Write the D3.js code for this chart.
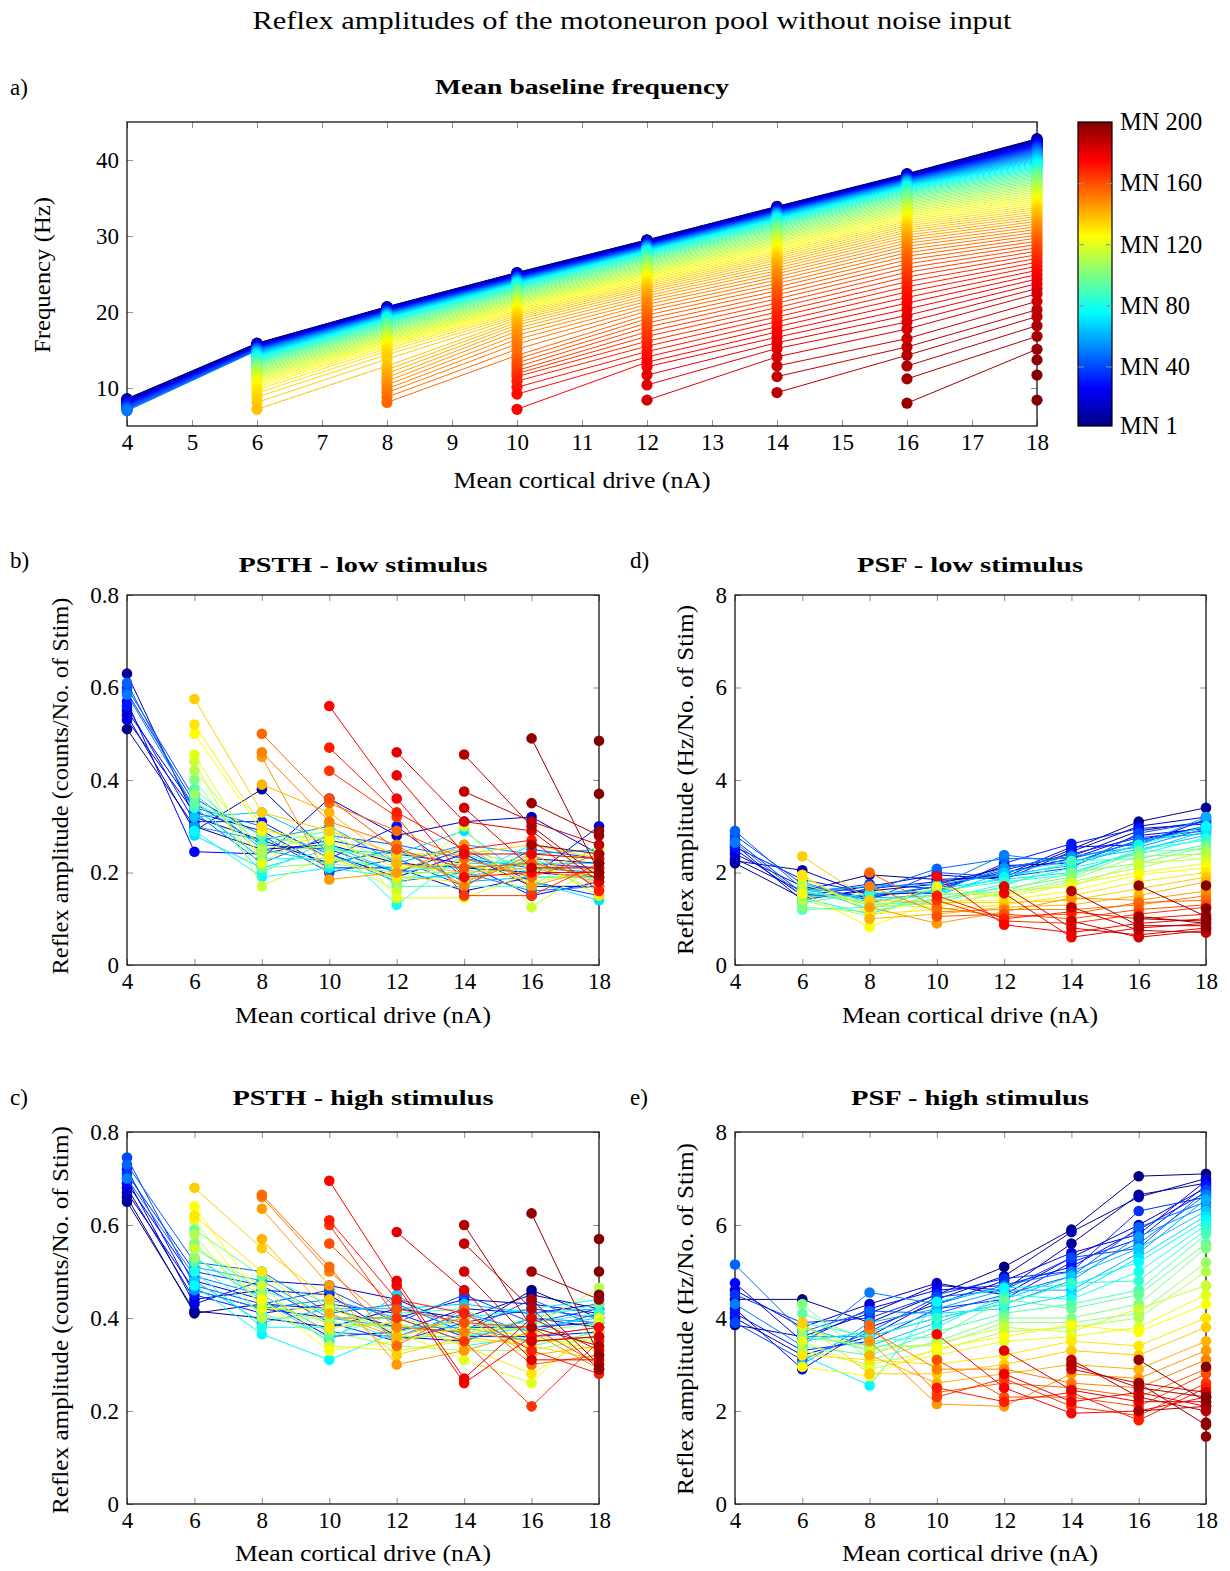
<!DOCTYPE html>
<html><head><meta charset="utf-8">
<script src="https://cdn.jsdelivr.net/npm/d3@7"></script>
<style>body{margin:0;background:#fff}</style>
</head><body><svg id="c" width="1230" height="1571"></svg>
<script>
// ---------------- data ----------------
const drives = [4, 6, 8, 10, 12, 14, 16, 18];

// motoneurons shown in panel a (ordered by recruitment)
const mnIdsA = [1,3,5,7,9,11,13,15,17,19,21,23,25,27,29,31,33,35,37,39,41,43,45,47,49,51,53,55,57,59,61,63,65,67,69,71,73,75,77,79,81,83,85,87,89,91,93,95,97,99,101,103,105,107,109,111,113,115,117,119,121,123,125,127,129,131,133,135,137,139,141,143,145,147,149,151,153,155,157,159,161,163,165,167,169,171,173,175,177,179,181,183,185,187,189,191,193,195,197,199,200];
// each inner array = one drive level, frequencies (Hz) of the recruited MNs in mnIdsA order
const baselineFreq = [
  [8.6,8.55,8.5,8.45,8.4,8.35,8.3,8.25,8.2,8.15,8.1,8.0,7.95,7.9,7.8,7.75,7.65,7.6,7.5,7.4,7.35,7.25,7.2,7.1,7.0],
  [15.9,15.86,15.82,15.78,15.74,15.7,15.66,15.62,15.58,15.54,15.5,15.46,15.42,15.38,15.34,15.3,15.26,15.22,15.18,15.14,15.1,15.06,15.02,14.98,14.94,
   14.9,14.85,14.8,14.74,14.68,14.62,14.56,14.5,14.43,14.36,14.29,14.22,14.15,
   14.05,13.95,13.85,13.75,13.64,13.53,13.42,13.3,13.18,13.06,12.93,12.8,
   12.65,12.5,12.35,12.2,12.04,11.88,11.7,11.52,11.33,11.13,10.92,10.7,10.45,
   10.15,9.8,9.35,8.8,8.1,7.2],
  [20.7,20.67,20.64,20.6,20.57,20.53,20.5,20.46,20.42,20.38,20.35,20.31,20.27,20.23,20.19,20.15,20.11,20.07,20.03,19.99,19.95,19.91,19.87,19.83,19.79,
   19.75,19.71,19.67,19.63,19.59,19.55,19.5,19.45,19.4,19.35,19.3,19.25,19.2,
   19.1,19.0,18.9,18.8,18.7,18.58,18.46,18.34,18.22,18.1,17.97,17.84,
   17.7,17.55,17.4,17.25,17.1,16.94,16.78,16.62,16.45,16.28,16.1,15.92,15.73,
   15.5,15.2,14.85,14.4,13.8,12.9,
   12.4,11.9,11.4,10.9,10.4,9.9,9.4,8.8,8.1],
  [25.2,25.16,25.12,25.08,25.04,25.0,24.96,24.92,24.88,24.84,24.8,24.76,24.72,24.68,24.64,24.6,24.56,24.52,24.48,24.44,24.4,24.36,24.32,24.28,24.24,
   24.2,24.16,24.12,24.08,24.04,24.0,23.96,23.92,23.88,23.84,23.8,23.75,23.7,
   23.6,23.5,23.4,23.3,23.2,23.1,22.98,22.86,22.74,22.62,22.5,22.37,
   22.24,22.1,21.96,21.82,21.67,21.52,21.37,21.21,21.05,20.88,20.71,20.53,20.35,
   20.15,19.95,19.73,19.5,19.25,18.98,
   18.65,18.3,17.9,17.45,16.95,16.4,15.8,15.1,14.3,
   13.8,13.3,12.8,12.3,11.9,11.5,10.9,10.1,9.2,7.2],
  [29.5,29.46,29.42,29.38,29.34,29.3,29.26,29.22,29.18,29.14,29.1,29.06,29.02,28.98,28.94,28.9,28.86,28.82,28.78,28.74,28.7,28.66,28.62,28.58,28.54,
   28.5,28.46,28.42,28.38,28.34,28.3,28.26,28.22,28.18,28.14,28.1,28.05,28.0,
   27.9,27.8,27.7,27.6,27.48,27.36,27.24,27.12,27.0,26.87,26.74,26.6,
   26.45,26.3,26.15,26.0,25.84,25.68,25.52,25.35,25.18,25.0,24.82,24.63,24.44,
   24.24,24.03,23.81,23.58,23.34,23.08,
   22.8,22.5,22.15,21.8,21.4,21.0,20.55,20.1,19.6,
   19.1,18.55,18.0,17.4,16.8,16.15,15.5,14.8,14.1,13.4,
   12.8,11.7,10.4,8.4],
  [33.9,33.86,33.82,33.78,33.74,33.7,33.66,33.62,33.58,33.54,33.5,33.46,33.42,33.38,33.34,33.3,33.26,33.22,33.18,33.14,33.1,33.06,33.02,32.98,32.94,
   32.9,32.86,32.82,32.78,32.73,32.68,32.63,32.58,32.52,32.46,32.4,32.33,32.26,
   32.16,32.06,31.95,31.84,31.72,31.6,31.47,31.34,31.2,31.06,30.91,30.76,
   30.6,30.44,30.27,30.1,29.92,29.74,29.55,29.36,29.16,28.96,28.75,28.54,28.32,
   28.09,27.85,27.6,27.34,27.07,26.79,
   26.48,26.15,25.8,25.43,25.04,24.63,24.2,23.75,23.28,
   22.78,22.26,21.72,21.16,20.58,19.98,19.36,18.72,18.06,17.38,
   16.68,15.96,15.2,14.1,
   12.9,11.5,9.4],
  [38.2,38.16,38.12,38.08,38.04,38.0,37.96,37.92,37.88,37.84,37.8,37.76,37.72,37.68,37.64,37.6,37.56,37.52,37.48,37.44,37.4,37.36,37.32,37.28,37.24,
   37.2,37.15,37.1,37.05,37.0,36.95,36.89,36.83,36.77,36.71,36.64,36.57,36.5,
   36.4,36.29,36.18,36.06,35.94,35.81,35.68,35.54,35.4,35.25,35.1,34.94,
   34.77,34.6,34.42,34.24,34.05,33.86,33.66,33.46,33.25,33.04,32.82,32.6,32.37,
   32.13,31.88,31.62,31.35,31.07,30.78,
   30.47,30.14,29.8,29.44,29.06,28.66,28.24,27.8,27.34,
   26.85,26.33,25.79,25.22,24.62,23.99,23.33,22.64,21.92,21.17,
   20.38,19.55,18.68,17.76,
   16.5,15.4,14.3,
   12.9,11.2,8.0],
  [42.8,42.74,42.68,42.62,42.56,42.5,42.43,42.36,42.29,42.22,42.15,42.08,42.0,41.92,41.84,41.76,41.68,41.6,41.51,41.42,41.33,41.24,41.15,41.05,40.95,
   40.85,40.75,40.64,40.53,40.42,40.31,40.19,40.07,39.95,39.82,39.69,39.56,39.42,
   39.28,39.13,38.98,38.83,38.67,38.51,38.34,38.17,38.0,37.82,37.64,37.45,
   37.26,37.06,36.86,36.65,36.44,36.22,36.0,35.77,35.54,35.3,35.06,34.81,34.55,
   34.29,34.02,33.74,33.46,33.17,32.87,
   32.56,32.24,31.91,31.57,31.22,30.86,30.49,30.11,29.72,
   29.31,28.89,28.45,28.0,27.53,27.04,26.54,26.02,25.48,24.92,
   24.33,23.72,23.08,22.4,
   21.4,20.3,19.4,
   18.2,16.8,15.1,
   13.7,11.7,8.4]
];

// motoneurons shown in panels b-e
const mnIds = [1,5,10,15,20,25,30,35,40,45,50,55,60,65,70,75,80,85,90,95,100,105,110,115,120,125,130,135,140,145,150,155,160,165,170,175,178,181,184,187,190,192,194,196,197,198,199,200];

const psthLow = [
  [0.51,0.63,0.54,0.55,0.53,0.57,0.56,0.59,0.60,0.61,0.585],
  [0.30,0.32,0.29,0.34,0.33,0.245,0.31,0.35,0.36,0.33,0.34,0.30,0.37,0.32,0.28,0.29,0.36,0.34,0.38,0.35,0.40,0.37,0.42,0.44,0.455,0.50,0.52,0.575],
  [0.25,0.27,0.38,0.23,0.29,0.24,0.31,0.26,0.28,0.22,0.30,0.27,0.25,0.33,0.21,0.19,0.20,0.23,0.26,0.28,0.21,0.24,0.25,0.17,0.22,0.29,0.30,0.33,0.39,0.45,0.46,0.50],
  [0.26,0.22,0.24,0.36,0.21,0.27,0.23,0.25,0.20,0.28,0.24,0.30,0.22,0.26,0.25,0.21,0.27,0.23,0.29,0.25,0.22,0.26,0.28,0.24,0.31,0.27,0.23,0.29,0.33,0.185,0.31,0.35,0.36,0.42,0.47,0.56],
  [0.22,0.25,0.19,0.28,0.21,0.24,0.30,0.20,0.23,0.26,0.18,0.22,0.25,0.20,0.24,0.19,0.13,0.21,0.17,0.23,0.20,0.18,0.22,0.16,0.145,0.21,0.19,0.24,0.22,0.20,0.26,0.29,0.25,0.32,0.33,0.36,0.41,0.46],
  [0.21,0.18,0.24,0.31,0.16,0.22,0.19,0.25,0.17,0.23,0.20,0.26,0.18,0.22,0.29,0.19,0.24,0.21,0.17,0.25,0.20,0.23,0.19,0.30,0.145,0.22,0.18,0.24,0.20,0.26,0.17,0.23,0.21,0.15,0.25,0.19,0.24,0.31,0.34,0.375,0.455],
  [0.20,0.23,0.17,0.32,0.19,0.15,0.22,0.18,0.25,0.21,0.16,0.24,0.19,0.22,0.18,0.26,0.20,0.23,0.17,0.21,0.24,0.19,0.22,0.125,0.20,0.18,0.23,0.26,0.21,0.17,0.24,0.19,0.22,0.15,0.27,0.20,0.24,0.29,0.21,0.31,0.30,0.26,0.35,0.49],
  [0.19,0.22,0.17,0.24,0.30,0.18,0.21,0.15,0.23,0.20,0.17,0.25,0.19,0.22,0.14,0.24,0.20,0.18,0.26,0.21,0.23,0.19,0.16,0.22,0.25,0.20,0.15,0.23,0.18,0.21,0.17,0.24,0.19,0.22,0.16,0.20,0.23,0.18,0.21,0.26,0.19,0.24,0.28,0.20,0.29,0.22,0.37,0.485]
];
const psthHigh = [
  [0.66,0.65,0.68,0.67,0.70,0.69,0.72,0.71,0.745,0.73,0.70],
  [0.41,0.415,0.44,0.46,0.43,0.48,0.45,0.50,0.47,0.52,0.49,0.46,0.51,0.48,0.53,0.47,0.50,0.55,0.52,0.59,0.56,0.53,0.58,0.55,0.61,0.64,0.62,0.68],
  [0.43,0.40,0.46,0.42,0.48,0.44,0.41,0.47,0.43,0.50,0.45,0.42,0.48,0.39,0.44,0.365,0.38,0.46,0.41,0.49,0.43,0.45,0.40,0.47,0.42,0.44,0.50,0.55,0.57,0.635,0.66,0.665],
  [0.42,0.38,0.45,0.40,0.47,0.36,0.43,0.39,0.46,0.41,0.37,0.44,0.40,0.42,0.35,0.31,0.38,0.41,0.36,0.43,0.39,0.37,0.40,0.34,0.42,0.33,0.38,0.44,0.41,0.47,0.50,0.51,0.56,0.60,0.61,0.695],
  [0.38,0.42,0.36,0.40,0.44,0.37,0.41,0.35,0.39,0.43,0.36,0.40,0.38,0.42,0.45,0.37,0.39,0.35,0.41,0.36,0.38,0.34,0.40,0.33,0.37,0.35,0.39,0.32,0.36,0.30,0.38,0.34,0.42,0.40,0.44,0.47,0.48,0.585],
  [0.37,0.40,0.35,0.44,0.38,0.42,0.36,0.39,0.45,0.37,0.41,0.35,0.38,0.43,0.36,0.40,0.34,0.38,0.42,0.36,0.39,0.33,0.37,0.35,0.31,0.38,0.34,0.36,0.40,0.33,0.37,0.42,0.39,0.35,0.41,0.26,0.27,0.46,0.50,0.56,0.60],
  [0.46,0.45,0.40,0.43,0.38,0.41,0.36,0.42,0.39,0.44,0.37,0.40,0.35,0.41,0.38,0.42,0.36,0.39,0.34,0.40,0.37,0.33,0.38,0.35,0.26,0.36,0.28,0.34,0.32,0.37,0.35,0.30,0.38,0.21,0.33,0.36,0.40,0.31,0.35,0.42,0.38,0.44,0.50,0.625],
  [0.40,0.42,0.38,0.41,0.39,0.43,0.37,0.40,0.42,0.38,0.41,0.39,0.36,0.42,0.40,0.44,0.38,0.41,0.37,0.43,0.39,0.36,0.465,0.35,0.40,0.33,0.37,0.31,0.34,0.29,0.36,0.32,0.30,0.35,0.28,0.38,0.33,0.31,0.36,0.29,0.34,0.30,0.44,0.32,0.29,0.45,0.50,0.57]
];
const psfLow = [
  [2.2,2.3,2.25,2.5,2.4,2.6,2.55,2.7,2.8,2.9,2.65],
  [1.45,1.6,2.05,1.5,1.7,1.4,1.85,1.55,1.75,1.65,1.5,1.8,1.6,1.55,1.7,1.45,1.65,1.35,1.2,1.5,1.25,1.6,1.4,1.75,1.9,1.55,1.95,2.35],
  [1.6,1.95,1.5,1.7,1.45,1.65,1.55,1.75,1.4,1.6,1.5,1.35,1.7,1.45,1.2,1.1,1.3,1.55,1.25,1.4,1.15,1.35,1.05,1.3,1.2,0.82,1.1,1.4,1.0,1.25,1.7,2.0],
  [1.75,1.85,1.6,1.95,1.7,1.8,1.55,1.65,2.0,2.08,1.7,1.6,1.75,1.5,1.65,1.55,1.4,1.6,1.35,1.5,1.45,1.3,1.55,1.25,1.7,1.4,1.2,1.35,1.1,0.9,1.15,1.25,1.05,1.4,1.5,1.92],
  [2.1,1.9,2.15,1.85,2.0,1.95,2.2,2.05,1.9,2.3,2.38,2.1,1.95,2.0,1.85,1.9,1.75,1.8,1.7,1.65,1.6,1.55,1.5,1.6,1.45,1.4,1.3,1.35,1.25,1.15,1.2,1.05,1.1,0.95,1.0,0.87,1.55,1.7],
  [2.35,2.5,2.2,2.45,2.3,2.55,2.62,2.4,2.1,2.3,2.2,2.35,2.15,2.25,2.0,2.2,2.1,1.95,2.25,1.9,2.0,1.85,1.8,1.7,1.75,1.6,1.5,1.4,1.3,1.45,1.2,1.1,1.0,0.9,1.15,0.7,0.6,0.8,0.95,1.25,1.6],
  [2.9,3.1,2.7,3.0,2.8,2.6,2.95,2.75,2.85,2.65,2.7,2.55,2.6,2.5,2.45,2.6,2.4,2.5,2.3,2.45,2.2,2.35,2.1,2.2,2.0,1.95,1.8,1.65,1.5,1.4,1.3,1.35,1.2,1.1,1.0,0.9,0.8,0.65,0.6,0.75,0.85,1.0,1.05,1.72],
  [3.1,3.4,3.0,3.2,2.95,3.15,3.05,2.9,3.1,3.0,2.85,2.95,3.2,2.8,2.9,3.0,2.75,2.7,2.6,2.5,2.55,2.4,2.45,2.3,2.2,2.1,2.0,1.9,1.8,1.6,1.5,1.4,1.3,1.25,1.1,1.0,0.9,0.8,0.75,0.7,0.85,0.95,0.9,1.05,0.8,1.0,1.22,1.72]
];
const psfHigh = [
  [4.4,3.85,4.0,4.6,4.2,4.75,4.1,4.5,3.9,5.15,4.3],
  [4.4,3.6,3.2,3.8,2.9,3.5,3.3,3.9,3.1,3.7,3.4,3.6,3.0,3.8,3.5,3.2,3.7,3.9,3.4,4.1,4.3,3.6,3.3,3.8,3.5,2.95,3.2,3.9],
  [3.9,4.1,3.6,4.3,3.8,4.2,3.5,4.0,3.7,4.15,4.55,3.6,3.9,3.4,3.7,2.55,3.3,3.6,3.2,3.5,3.1,3.4,3.0,3.3,2.9,2.75,3.1,2.8,3.2,3.5,3.75,3.85],
  [4.5,4.7,4.4,4.75,4.3,4.6,4.2,4.5,4.45,4.1,4.3,4.0,4.2,3.9,4.1,4.35,3.8,4.0,3.7,3.6,3.5,3.4,3.3,3.45,3.2,3.35,3.0,2.8,2.6,2.15,2.9,2.4,3.1,2.3,2.5,3.65],
  [5.1,4.6,4.9,4.5,4.8,4.7,4.4,4.85,4.6,4.5,4.7,4.3,4.6,4.4,4.2,4.65,4.5,4.3,4.1,4.4,4.0,3.9,3.7,3.8,3.5,3.6,3.2,3.0,2.8,2.1,2.9,2.6,2.3,2.7,2.2,2.5,2.8,3.3],
  [5.9,5.6,5.85,5.3,5.4,5.1,5.2,5.0,5.3,4.9,5.0,4.8,4.6,4.9,4.5,4.7,4.4,4.75,4.3,4.2,4.0,3.9,3.8,3.7,3.6,3.85,3.5,3.3,3.0,2.8,2.6,2.5,2.3,2.1,2.4,1.95,2.2,2.45,2.9,3.1,3.0],
  [7.05,6.65,6.6,6.0,5.8,5.9,5.7,6.3,5.5,5.95,5.6,5.75,5.4,5.5,5.3,5.2,5.0,4.8,4.6,4.5,4.3,4.1,4.0,4.2,3.8,3.7,3.4,3.2,2.9,2.7,2.5,2.3,2.1,1.9,1.8,2.0,2.4,2.2,2.6,2.3,2.5,2.0,2.6,3.1],
  [7.1,6.9,7.0,6.8,6.95,6.7,6.85,6.6,6.75,6.5,6.65,6.4,6.55,6.3,6.2,6.1,6.0,5.9,5.8,5.6,5.5,5.2,5.0,4.7,4.5,4.3,4.0,3.8,3.5,3.3,3.1,2.9,2.8,2.6,2.5,2.3,2.1,2.2,2.4,2.0,2.3,2.1,1.7,2.2,1.45,1.75,2.3,2.95]
];

const xTicksA = [4,5,6,7,8,9,10,11,12,13,14,15,16,17,18];
const yTicksA = [10,20,30,40];
const xTicksB = [4,6,8,10,12,14,16,18];
const yTicksPSTH = [0,0.2,0.4,0.6,0.8];
const yTicksPSF = [0,2,4,6,8];
const cbTickValues = [1,40,80,120,160,200];
const cbTickLabels = ["MN 1","MN 40","MN 80","MN 120","MN 160","MN 200"];

// ---------------- drawing ----------------
const FONT = "'Liberation Serif','DejaVu Serif',serif";
const svg = d3.select("#c").attr("font-family", FONT);
const jetStops = [0,0.125,0.375,0.625,0.875,1];
const jetColors = ["#000080","#0000ff","#00ffff","#ffff00","#ff0000","#800000"];
const jet = d3.scaleLinear().domain(jetStops).range(jetColors).interpolate(d3.interpolateRgb);
const mnScale = d3.scaleLinear().domain([1,200]).range([0,1]);
const mnColor = mn => jet(mnScale(mn));

function seriesOf(cols, i){
  const pts = [];
  cols.forEach((col,j)=>{ if(i < col.length) pts.push([drives[j], col[i]]); });
  return pts;
}

function styleAxis(sel, showText, size){
  sel.attr("font-family", FONT).attr("font-size", size || 23);
  sel.select(".domain").remove();
  sel.selectAll(".tick line").attr("stroke","#8f8f8f").attr("stroke-width",1);
  sel.selectAll(".tick text").attr("fill","#000");
  if(!showText) sel.selectAll(".tick text").remove();
}

function text(x, y, str, opts={}){
  const t = svg.append("text").attr("x",x).attr("y",y).attr("dy","0.35em")
    .attr("text-anchor", opts.anchor || "middle")
    .attr("font-size", opts.size || 23).attr("fill","#000").text(str);
  if(opts.bold) t.attr("font-weight","bold");
  if(opts.len){ t.attr("textLength",opts.len).attr("lengthAdjust","spacingAndGlyphs"); }
  if(opts.rotate) t.attr("transform",`rotate(-90,${x},${y})`);
  return t;
}

function panel(cfg){
  const x = d3.scaleLinear().domain([4,18]).range([cfg.x0,cfg.x1]);
  const y = d3.scaleLinear().domain(cfg.yDomain).range([cfg.y1,cfg.y0]);
  const g = svg.append("g");
  g.append("g").attr("transform",`translate(0,${cfg.y1})`)
    .call(d3.axisBottom(x).tickValues(cfg.xTicks).tickSize(-6).tickPadding(8).tickFormat(d3.format("d")))
    .call(s=>styleAxis(s,true));
  g.append("g").attr("transform",`translate(0,${cfg.y0})`)
    .call(d3.axisTop(x).tickValues(cfg.xTicks).tickSize(-6))
    .call(s=>styleAxis(s,false));
  g.append("g").attr("transform",`translate(${cfg.x0},0)`)
    .call(d3.axisLeft(y).tickValues(cfg.yTicks).tickSize(-6).tickPadding(8).tickFormat(cfg.yFmt))
    .call(s=>styleAxis(s,true));
  g.append("g").attr("transform",`translate(${cfg.x1},0)`)
    .call(d3.axisRight(y).tickValues(cfg.yTicks).tickSize(-6))
    .call(s=>styleAxis(s,false));
  g.append("rect").attr("x",cfg.x0).attr("y",cfg.y0).attr("width",cfg.x1-cfg.x0).attr("height",cfg.y1-cfg.y0)
    .attr("fill","none").attr("stroke","#000").attr("stroke-width",1.2);
  const line = d3.line().x(d=>x(d[0])).y(d=>y(d[1]));
  const gd = g.append("g");
  cfg.ids.forEach((mn,i)=>{
    const pts = seriesOf(cfg.data, i);
    const c = mnColor(mn);
    const s = gd.append("g");
    s.append("path").attr("d", line(pts)).attr("fill","none").attr("stroke",c).attr("stroke-width",1);
    s.selectAll("circle").data(pts).join("circle")
      .attr("cx",d=>x(d[0])).attr("cy",d=>y(d[1])).attr("r",cfg.r).attr("fill",c);
  });
}

// main title
text(632, 20, "Reflex amplitudes of the motoneuron pool without noise input", {size:25, len:759});

// panel a
panel({x0:127,x1:1037,y0:122,y1:426,yDomain:[5,45],xTicks:xTicksA,yTicks:yTicksA,yFmt:d3.format("d"),data:baselineFreq,ids:mnIdsA,r:5.6});
text(10, 87, "a)", {anchor:"start", size:23});
text(582, 87, "Mean baseline frequency", {bold:true, size:21, len:294});
text(582, 480, "Mean cortical drive (nA)", {size:23, len:257});
text(42, 275, "Frequency (Hz)", {size:23, len:156, rotate:true});

// colorbar
(function(){
  const cx0=1078, cx1=1112, cy0=122, cy1=426;
  const cy = d3.scaleLinear().domain([1,200]).range([cy1,cy0]);
  const defs = svg.append("defs");
  const grad = defs.append("linearGradient").attr("id","jetGrad").attr("x1",0).attr("y1",1).attr("x2",0).attr("y2",0);
  jetStops.forEach((s,i)=>grad.append("stop").attr("offset",s).attr("stop-color",jetColors[i]));
  svg.append("rect").attr("x",cx0).attr("y",cy0).attr("width",cx1-cx0).attr("height",cy1-cy0)
    .attr("fill","url(#jetGrad)").attr("stroke","#000").attr("stroke-width",1.2);
  const inner = cbTickValues.slice(1,-1);
  svg.append("g").attr("transform",`translate(${cx0},0)`)
    .call(d3.axisRight(cy).tickValues(inner).tickSize(6)).call(s=>styleAxis(s,false));
  svg.append("g").attr("transform",`translate(${cx1},0)`)
    .call(d3.axisLeft(cy).tickValues(inner).tickSize(6)).call(s=>styleAxis(s,false));
  svg.append("g").attr("transform",`translate(${cx1},0)`)
    .call(d3.axisRight(cy).tickValues(cbTickValues).tickSize(0).tickPadding(8).tickFormat((d,i)=>cbTickLabels[i]))
    .call(s=>styleAxis(s,true,24.5));
})();

// panel b
panel({x0:127,x1:599,y0:595,y1:965,yDomain:[0,0.8],xTicks:xTicksB,yTicks:yTicksPSTH,yFmt:d3.format(".1~f"),data:psthLow,ids:mnIds,r:5.3});
text(10, 560, "b)", {anchor:"start", size:23});
text(363, 565, "PSTH - low stimulus", {bold:true, size:21, len:249});
text(363, 1015, "Mean cortical drive (nA)", {size:23, len:256});
text(60, 786, "Reflex amplitude (counts/No. of Stim)", {size:23, len:377, rotate:true});

// panel d
panel({x0:735,x1:1206,y0:595,y1:965,yDomain:[0,8],xTicks:xTicksB,yTicks:yTicksPSF,yFmt:d3.format("d"),data:psfLow,ids:mnIds,r:5.3});
text(630, 560, "d)", {anchor:"start", size:23});
text(970, 565, "PSF - low stimulus", {bold:true, size:21, len:226});
text(970, 1015, "Mean cortical drive (nA)", {size:23, len:256});
text(685, 780, "Reflex amplitude (Hz/No. of Stim)", {size:23, len:350, rotate:true});

// panel c
panel({x0:127,x1:599,y0:1132,y1:1504,yDomain:[0,0.8],xTicks:xTicksB,yTicks:yTicksPSTH,yFmt:d3.format(".1~f"),data:psthHigh,ids:mnIds,r:5.3});
text(10, 1097, "c)", {anchor:"start", size:23});
text(363, 1098, "PSTH - high stimulus", {bold:true, size:21, len:261});
text(363, 1553, "Mean cortical drive (nA)", {size:23, len:256});
text(60, 1320, "Reflex amplitude (counts/No. of Stim)", {size:23, len:388, rotate:true});

// panel e
panel({x0:735,x1:1206,y0:1132,y1:1504,yDomain:[0,8],xTicks:xTicksB,yTicks:yTicksPSF,yFmt:d3.format("d"),data:psfHigh,ids:mnIds,r:5.3});
text(630, 1097, "e)", {anchor:"start", size:23});
text(970, 1098, "PSF - high stimulus", {bold:true, size:21, len:238});
text(970, 1553, "Mean cortical drive (nA)", {size:23, len:256});
text(685, 1319, "Reflex amplitude (Hz/No. of Stim)", {size:23, len:352, rotate:true});
</script></body></html>
